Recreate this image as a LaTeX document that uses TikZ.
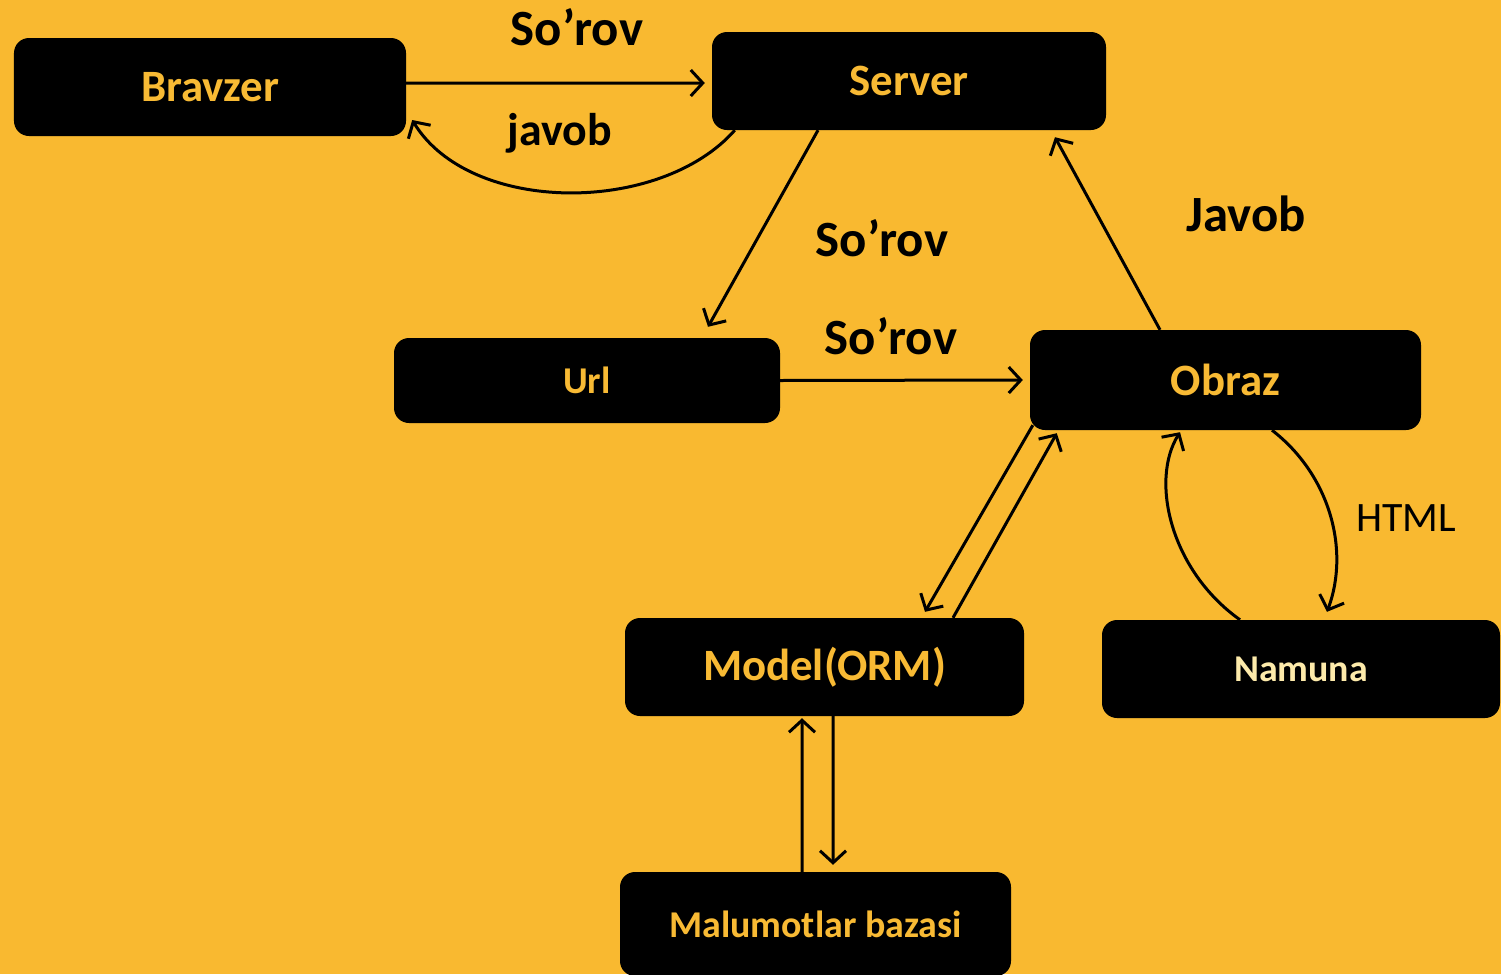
\documentclass[tikz,border=0pt]{standalone}
\usepackage{fontspec}
\setmainfont{Carlito}
\usetikzlibrary{arrows.meta}
\definecolor{bg}{RGB}{249,185,48}
\definecolor{gold}{RGB}{248,186,52}
\definecolor{cream}{RGB}{253,234,170}
\tikzset{
  box/.style={fill=black, rounded corners=15bp, inner sep=0pt},
  boxtxt/.style={text=gold, font=\bfseries\fontsize{45}{54}\selectfont},
  smalltxt/.style={text=gold, font=\bfseries\fontsize{38}{46}\selectfont},
  lbl/.style={text=black, font=\bfseries\fontsize{51}{60}\selectfont, inner sep=0pt},
  conn/.style={draw=black, line width=3bp, -{Straight Barb[length=12bp,width=26bp]}}
}
\begin{document}
\begin{tikzpicture}[x=1bp,y=-1bp]
\useasboundingbox (0,0) rectangle (1501,974);
\fill[bg] (0,0) rectangle (1501,974);

\node[box, boxtxt, minimum width=392bp, minimum height=98bp] (bravzer) at (210,87) {Bravzer};
\node[box, boxtxt, minimum width=394bp, minimum height=98bp] (server) at (909,81) {Server};
\node[box, smalltxt, minimum width=386bp, minimum height=85bp] (url) at (587,380.5) {Url};
\node[box, boxtxt, minimum width=391bp, minimum height=100bp] (obraz) at (1225.5,380) {Obraz};
\node[box, boxtxt, minimum width=399bp, minimum height=98bp] (model) at (824.5,667) {Model(ORM)};
\node[box, smalltxt, text=cream, minimum width=398bp, minimum height=98bp] (namuna) at (1301,669) {Namuna};
\node[box, smalltxt, minimum width=391bp, minimum height=104bp] (malumot) at (815.5,924) {Malumotlar bazasi};

\node[lbl] (l1) at (577,27) {So’rov};
\node[lbl, font=\bfseries\fontsize{46}{54}\selectfont] (l2) at (560,133) {javob};
\node[lbl] (l3) at (882,238) {So’rov};
\node[lbl] (l4) at (891,336) {So’rov};
\node[lbl] (l5) at (1246,214) {Javob};
\node[lbl, font=\fontsize{42}{50}\selectfont] (l6) at (1406,518) {HTML};

% Bravzer -> Server
\draw[conn] ([yshift=4bp]bravzer.east) -- ([xshift=-7bp,yshift=-2bp]server.west);
% Server -> Bravzer (curved)
\draw[conn] ([xshift=23bp]server.south west) .. controls (660,215) and (470,215) .. ([xshift=6bp,yshift=-33bp]bravzer.east);
% Server -> Url
\draw[conn] ([xshift=-91bp]server.south) -- ([xshift=121bp,yshift=11bp]url.north);
% Url -> Obraz
\draw[conn] (url.east) -- ([xshift=-7bp]obraz.west);
% Obraz -> Server
\draw[conn] ([xshift=-65.5bp]obraz.north) -- ([xshift=146bp,yshift=-7bp]server.south);
% Obraz -> Model
\draw[conn] ([xshift=3bp,yshift=5bp]obraz.south west) -- ([xshift=100.5bp,yshift=6bp]model.north);
% Model -> Obraz
\draw[conn] ([xshift=128.5bp]model.north) -- ([xshift=27bp,yshift=-3bp]obraz.south west);
% Namuna -> Obraz (curved)
\draw[conn] ([xshift=-61bp]namuna.north) .. controls (1170,570) and (1150,480) .. ([xshift=-45.5bp,yshift=-2bp]obraz.south);
% Obraz -> Namuna (curved)
\draw[conn] ([xshift=46.5bp]obraz.south) .. controls (1330,475) and (1350,550) .. ([xshift=26bp,yshift=8bp]namuna.north);
% Malumotlar -> Model
\draw[conn] ([xshift=-13.5bp]malumot.north) -- ([xshift=-22.5bp,yshift=-2bp]model.south);
% Model -> Malumotlar
\draw[conn] ([xshift=8.5bp]model.south) -- ([xshift=17.5bp,yshift=7bp]malumot.north);
\end{tikzpicture}
\end{document}
